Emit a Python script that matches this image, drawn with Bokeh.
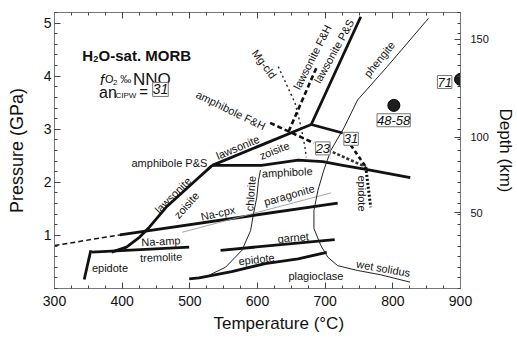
from bokeh.plotting import figure
from bokeh.models import FixedTicker, LinearAxis, Label, ColumnDataSource, Title
from bokeh.core.properties import value
from bokeh.embed import file_html
from bokeh.resources import INLINE

FONT = "Liberation Sans"

# ---------------- axes data ----------------
x_major = [300, 400, 500, 600, 700, 800, 900]
x_minor = list(range(300, 901, 25))
p_major = [1, 2, 3, 4, 5]
p_minor = [round(0.2 * i, 1) for i in range(0, 27)]
depth_labels = ["50", "100", "150"]
depth_pressure = [1.43, 2.85, 4.70]

# ---------------- phase boundaries (T in °C, P in GPa) ----------------
nacpx_ext_T = [300, 396.6]
nacpx_ext_P = [0.81, 1.01]
nacpx_T = [396.6, 718.5]
nacpx_P = [1.01, 1.61]
parag_T = [488.8, 708.3]
parag_P = [1.06, 1.80]
naamp_T = [355.2, 499]
naamp_P = [0.685, 0.78]
epi_left_T = [353.7, 343.9]
epi_left_P = [0.72, 0.17]
lawzo_low_T = [384.4, 406.4, 425.9, 440.5, 464.9, 508.8, 533.1]
lawzo_low_P = [0.685, 0.78, 0.97, 1.16, 1.53, 2.04, 2.32]
amph_ps_T = [533.1, 605.9, 660.0, 696.6, 725.9, 762.4, 825.8]
amph_ps_P = [2.32, 2.32, 2.42, 2.39, 2.32, 2.24, 2.09]
lawzo_up_T = [533.1, 679.4]
lawzo_up_P = [2.32, 3.09]
law_ps_T = [679.4, 752.6]
law_ps_P = [3.09, 5.12]
law_31_T = [679.4, 725.9]
law_31_P = [3.09, 2.93]
dash_31_T = [738.0, 760.0]
dash_31_P = [2.70, 2.29]
epi_dot_T = [760.0, 767.3]
epi_dot_P = [2.29, 1.53]
amph_fh_a_T = [618.6, 683.4]
amph_fh_a_P = [3.12, 2.74]
amph_fh_b_T = [711.2, 760.0]
amph_fh_b_P = [2.57, 2.29]
law_fh_T = [686.8, 645.0]
law_fh_P = [4.15, 2.93]
mgcld_T = [630.7, 655.6, 664.4, 670.2, 672.1]
mgcld_P = [4.18, 3.49, 3.04, 2.66, 2.47]
phengite_T = [852.7, 791.7, 747.8, 728.3, 708.3, 698.0, 689.3, 683.4, 683.4,
              693.6, 703.9, 718.5, 747.8, 781.5, 825.4]
phengite_P = [5.09, 4.18, 3.55, 3.04, 2.60, 2.23, 1.85, 1.47, 1.13,
              0.81, 0.59, 0.43, 0.34, 0.26, 0.12]
chlorite_T = [604.4, 601.5, 599.0, 594.1, 589.8, 577.0, 552.7, 528.3]
chlorite_P = [2.23, 2.04, 1.72, 1.41, 1.09, 0.72, 0.40, 0.25]
garnet_T = [545.4, 714.1]
garnet_P = [0.72, 0.92]
epiplag_T = [499.0, 513.7, 561.9, 611.3, 660.0, 702.4]
epiplag_P = [0.18, 0.20, 0.32, 0.47, 0.56, 0.68]

# experiments
circle_T = [801.5, 900.0]
circle_P = [3.45, 3.94]

# ---------------- labels ----------------
lab_text = ["Mg-cld", "lawsonite F&H", "lawsonite P&S", "phengite", "amphibole F&H",
            "lawsonite", "zoisite", "amphibole P&S", "amphibole", "chlorite",
            "paragonite", "Na-cpx", "lawsonite", "zoisite", "Na-amp", "tremolite",
            "epidote", "garnet", "epidote", "plagioclase", "wet solidus", "epidote"]
lab_T = [610.0, 681.0, 713.0, 780.0, 560.5, 570.7, 624.9, 469.8, 643.9, 589.8,
         646.8, 541.5, 475.0, 495.0, 457.3, 457.6, 382.0, 652.7, 598.5, 686.3, 785.9, 753.7]
lab_P = [4.23, 4.36, 4.47, 4.32, 3.36, 2.66, 2.60, 2.36, 2.19, 1.79,
         1.76, 1.42, 1.76, 1.57, 0.89, 0.59, 0.38, 0.96, 0.55, 0.23, 0.38, 1.79]
lab_angle = [-53, 63, 61, 51, -26, 23, 22, 0, 3, 86,
             16, 12, 45, 48, 3, 2, 0, 5, 6, 0, -10, -90]

box_text = ["23", "31", "48-58", "71"]
box_T = [696.6, 738.3, 801.2, 876.6]
box_P = [2.64, 2.82, 3.17, 3.89]

# ---------------- figure ----------------
p = figure(width=517, height=339, x_range=(300, 900), y_range=(0, 5.2),
           output_backend="svg", toolbar_location=None, title=None,
           min_border_left=54, min_border_right=53, min_border_top=12, min_border_bottom=51)
p.grid.visible = False
p.outline_line_color = "#777777"
p.background_fill_color = "white"
p.border_fill_color = "white"

AX = "#777777"
TK = "#444444"


def style(ax, tin=6, minin=3):
    ax.axis_line_color = AX
    ax.major_tick_in = tin
    ax.major_tick_out = 0
    ax.minor_tick_in = minin
    ax.minor_tick_out = 0
    ax.major_tick_line_color = TK
    ax.minor_tick_line_color = TK
    ax.major_label_text_font = FONT
    ax.major_label_text_color = "#111111"
    ax.axis_label_text_font = FONT
    ax.axis_label_text_font_style = "normal"
    ax.axis_label_text_color = "#111111"


xa = p.xaxis[0]
xa.ticker = FixedTicker(ticks=x_major, minor_ticks=x_minor)
style(xa)
xa.major_label_text_font_size = "14px"
xa.major_label_standoff = 7

ya = p.yaxis[0]
ya.ticker = FixedTicker(ticks=p_major, minor_ticks=p_minor)
style(ya)
ya.major_label_text_font_size = "14px"
ya.major_label_standoff = 3
ya.axis_label = "Pressure (GPa)"
ya.axis_label_text_font_size = "18px"
ya.axis_label_standoff = 14

top = LinearAxis(ticker=FixedTicker(ticks=x_major, minor_ticks=x_minor),
                 major_label_overrides={t: "" for t in x_major}, major_label_standoff=0)
style(top)
p.add_layout(top, "above")

right = LinearAxis(ticker=FixedTicker(ticks=depth_pressure, minor_ticks=p_minor),
                   major_label_overrides={d: t for d, t in zip(depth_pressure, depth_labels)})
style(right)
right.major_label_text_font_size = "11px"
right.major_label_standoff = 10
right.axis_label = "Depth (km)"
right.axis_label_text_font_size = "17px"
right.axis_label_standoff = 4
p.add_layout(right, "right")

p.add_layout(Title(text="Temperature (\u00b0C)", align="left", offset=159, standoff=7,
                   text_font=FONT, text_font_size="17px", text_font_style="normal",
                   text_color="#111111"), "below")

# ---------------- lines ----------------
K = "#111111"
thick = dict(line_color=K, line_width=2.8, line_join="round")
for xs, ys in [(nacpx_T, nacpx_P), (naamp_T, naamp_P), (epi_left_T, epi_left_P),
               (lawzo_low_T, lawzo_low_P), (amph_ps_T, amph_ps_P), (lawzo_up_T, lawzo_up_P),
               (law_ps_T, law_ps_P), (law_31_T, law_31_P), (garnet_T, garnet_P),
               (epiplag_T, epiplag_P)]:
    p.line(xs, ys, **thick)

p.line(nacpx_ext_T, nacpx_ext_P, line_color=K, line_width=1.5, line_dash="5 3")
p.line(parag_T, parag_P, line_color="#9a9a9a", line_width=0.9)
p.line(phengite_T, phengite_P, line_color="#222222", line_width=1.0)
p.line(chlorite_T, chlorite_P, line_color="#222222", line_width=1.0)
p.line(mgcld_T, mgcld_P, line_color="#222222", line_width=1.4, line_dash="2 3")
p.line(law_fh_T, law_fh_P, line_color=K, line_width=2.6, line_dash="5 3")
p.line(amph_fh_a_T, amph_fh_a_P, line_color=K, line_width=2.6, line_dash="5 3")
p.line(amph_fh_b_T, amph_fh_b_P, line_color="#333333", line_width=2.6, line_dash="3 2")
p.line(dash_31_T, dash_31_P, line_color=K, line_width=2.6, line_dash="4 3")
p.line(epi_dot_T, epi_dot_P, line_color=K, line_width=3.0, line_dash="2 2")

p.scatter(circle_T, circle_P, size=12, fill_color="#1e1e1e", line_color="#000000")

# ---------------- phase labels ----------------
src = ColumnDataSource(dict(x=lab_T, y=lab_P, text=lab_text, angle=lab_angle))
p.text(x="x", y="y", text="text", angle="angle", angle_units="deg", source=src,
       text_font=value(FONT), text_font_size="11px", text_align="center",
       text_baseline="middle", text_color="#111111")

for t, x, y in zip(box_text, box_T, box_P):
    p.add_layout(Label(x=x, y=y, text=t, text_font=FONT, text_font_style="italic",
                       text_font_size="13px", text_align="center", text_baseline="middle",
                       text_color="#111111", border_line_color="#777777",
                       background_fill_color="white", padding=(0, 2)))


# ---------------- header block ----------------
def txt(x, y, s, size, style="normal"):
    p.text(x=[x], y=[y], text=[s], text_font=value(FONT), text_font_size=size,
           text_font_style=style, text_align="left", text_baseline="alphabetic",
           text_color="#111111")


txt(341.0, 4.387, "H", "15px", "bold")
txt(357.1, 4.32, "2", "9px", "bold")
txt(365.1, 4.387, "O-sat. MORB", "15px", "bold")
txt(367.3, 3.943, "f", "15px", "italic")
txt(374.6, 3.943, "O", "11px")
txt(386.3, 3.887, "2", "8px")
txt(397.3, 3.943, "\u2030", "11px")
txt(416.0, 3.943, "NNO", "17px")
txt(365.9, 3.689, "an", "16px")
txt(390.0, 3.632, "CIPW", "8px")
txt(425.1, 3.708, "=", "15px")
p.add_layout(Label(x=456.6, y=3.75, text="31", text_font=FONT, text_font_style="italic",
                   text_font_size="14px", text_align="center", text_baseline="middle",
                   text_color="#111111", border_line_color="#777777",
                   background_fill_color="white", padding=(0, 2)))

open("out.html", "w").write(file_html(p, INLINE))
